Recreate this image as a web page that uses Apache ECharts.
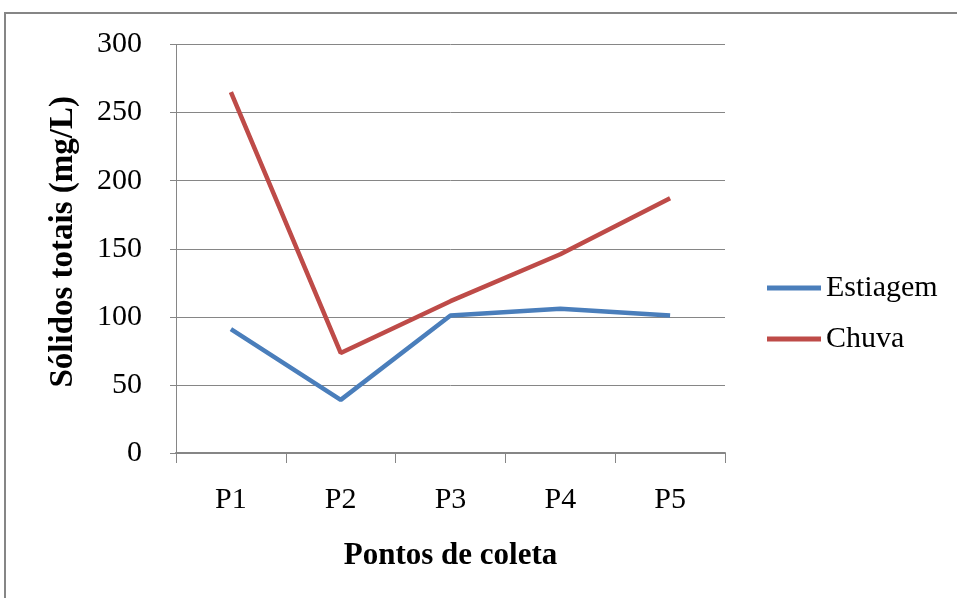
<!DOCTYPE html>
<html>
<head>
<meta charset="utf-8">
<script src="https://cdn.jsdelivr.net/npm/echarts@6/dist/echarts.min.js"></script>
<style>html,body{margin:0;padding:0;background:#fff}#c{width:957px;height:598px}</style>
</head>
<body>
<div id="c"></div>
<script>
const categories = ['P1', 'P2', 'P3', 'P4', 'P5'];
const estiagem = [91, 39, 101, 106, 101];
const chuva = [265, 73.5, 111.5, 146, 187];
const yTicks = {min: 0, max: 300, interval: 50};

const chart = echarts.init(document.getElementById('c'));
const font = '"Liberation Serif", "Times New Roman", serif';
chart.setOption({
  animation: false,
  textStyle: {fontFamily: font},
  graphic: [{
    type: 'rect', shape: {x: 5, y: 13, width: 1000, height: 700},
    style: {fill: 'none', stroke: '#868686', lineWidth: 2}, silent: true
  }],
  grid: {left: 176, right: 232, top: 44.5, bottom: 145, containLabel: false},
  legend: {
    orient: 'vertical', left: 762, top: 268,
    itemWidth: 54, itemHeight: 5, itemGap: 21,
    icon: 'rect',
    textStyle: {fontFamily: font, fontSize: 30, color: '#000'},
    data: ['Estiagem', 'Chuva']
  },
  xAxis: {
    type: 'category', data: categories, boundaryGap: true,
    name: 'Pontos de coleta', nameLocation: 'middle', nameGap: 87,
    nameTextStyle: {fontFamily: font, fontSize: 31, fontWeight: 'bold', color: '#000'},
    axisLine: {lineStyle: {color: '#868686', width: 2}},
    axisTick: {show: true, length: 10, alignWithLabel: false, lineStyle: {color: '#868686'}},
    axisLabel: {fontFamily: font, fontSize: 30, color: '#000', margin: 32}
  },
  yAxis: {
    type: 'value', min: yTicks.min, max: yTicks.max, interval: yTicks.interval,
    name: 'Sólidos totais (mg/L)', nameLocation: 'middle', nameGap: 96, nameRotate: 90,
    nameTextStyle: {fontFamily: font, fontSize: 33, fontWeight: 'bold', color: '#000', padding: [0, 0, 0, 14]},
    axisLine: {show: true, lineStyle: {color: '#868686', width: 1}},
    axisTick: {show: true, length: 6, lineStyle: {color: '#868686'}},
    axisLabel: {fontFamily: font, fontSize: 30, color: '#000', margin: 34},
    splitLine: {lineStyle: {color: '#868686', width: 1}}
  },
  series: [
    {name: 'Estiagem', type: 'line', data: estiagem, symbol: 'none',
     lineStyle: {color: '#4a7ebb', width: 4.5}, itemStyle: {color: '#4a7ebb'}},
    {name: 'Chuva', type: 'line', data: chuva, symbol: 'none',
     lineStyle: {color: '#be4b48', width: 4.5}, itemStyle: {color: '#be4b48'}}
  ]
});
</script>
</body>
</html>
